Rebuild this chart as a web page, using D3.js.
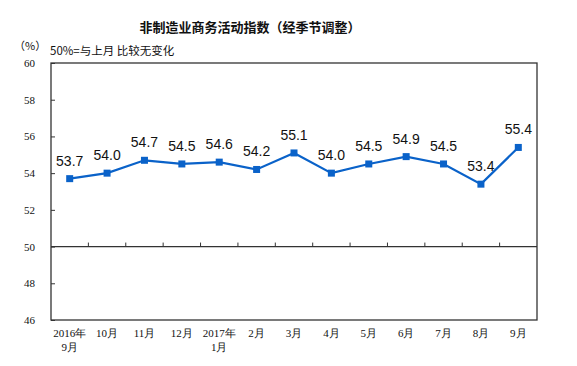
<!DOCTYPE html>
<html><head><meta charset="utf-8">
<script src="https://cdn.jsdelivr.net/npm/d3@7"></script>
<style>body{margin:0;background:#fff}svg{display:block}</style>
</head><body>
<script>
const categories = ["2016年\n9月","10月","11月","12月","2017年\n1月","2月","3月","4月","5月","6月","7月","8月","9月"];
const values = [53.7,54.0,54.7,54.5,54.6,54.2,55.1,54.0,54.5,54.9,54.5,53.4,55.4];
const yTicks = [46,48,50,52,54,56,58,60];
const title = "非制造业商务活动指数（经季节调整）";
const unit = "（%）";
const note = "50%=与上月 比较无变化";

const W=577,H=366;
const m={l:51,t:63,r:537,b:320};
const svg=d3.select("body").append("svg").attr("width",W).attr("height",H);
const x=d3.scaleBand().domain(categories).range([m.l,m.r]);
const y=d3.scaleLinear().domain([46,60]).range([m.b,m.t]);
const serif="'Liberation Serif','Times New Roman',serif";
const cjk="'Noto Sans CJK SC',sans-serif";

svg.append("text").attr("x",250).attr("y",32).attr("text-anchor","middle")
  .attr("font-family",cjk).attr("font-size",13).attr("font-weight","bold").attr("fill","#111").text(title);
svg.append("text").attr("x",14).attr("y",50).attr("font-family",cjk).attr("font-size",11).attr("fill","#111").text(unit);
svg.append("text").attr("x",50).attr("y",55).attr("font-family",cjk).attr("font-size",11.5).attr("fill","#111").text(note);

// box
svg.append("rect").attr("x",m.l).attr("y",m.t).attr("width",m.r-m.l).attr("height",m.b-m.t)
  .attr("fill","none").attr("stroke","#333").attr("stroke-width",1.3);

// y axis
const ya=svg.append("g").attr("transform",`translate(${m.l},0)`)
  .call(d3.axisLeft(y).tickValues(yTicks).tickSize(-4).tickPadding(16));
ya.select(".domain").remove();
ya.selectAll("line").attr("stroke","#333");
ya.selectAll("text").attr("font-family",serif).attr("font-size",11).attr("fill","#111");

// baseline at 50 with ticks between categories
svg.append("line").attr("x1",m.l).attr("x2",m.r).attr("y1",y(50)).attr("y2",y(50)).attr("stroke","#333").attr("stroke-width",1.3);
categories.slice(1).forEach(c=>{
  svg.append("line").attr("x1",x(c)).attr("x2",x(c)).attr("y1",y(50)).attr("y2",y(50)-4).attr("stroke","#333");
});

// x labels
categories.forEach(c=>{
  const t=svg.append("text").attr("text-anchor","middle").attr("font-family",serif).attr("font-size",11).attr("fill","#111")
    .attr("x",x(c)+x.bandwidth()/2).attr("y",337);
  c.split("\n").forEach((s,i)=>t.append("tspan").attr("x",x(c)+x.bandwidth()/2).attr("dy",i?14:0).text(s));
});

const line=d3.line().x((d,i)=>x(categories[i])+x.bandwidth()/2).y(d=>y(d));
svg.append("path").datum(values).attr("d",line).attr("fill","none").attr("stroke","#0a62c9").attr("stroke-width",2.2);
svg.selectAll(".pt").data(values).enter().append("rect")
  .attr("x",(d,i)=>x(categories[i])+x.bandwidth()/2-3.5).attr("y",d=>y(d)-3.5)
  .attr("width",7).attr("height",7).attr("fill","#0a62c9");
svg.selectAll(".lb").data(values).enter().append("text")
  .attr("x",(d,i)=>x(categories[i])+x.bandwidth()/2).attr("y",d=>y(d)-13)
  .attr("text-anchor","middle").attr("font-family","'Liberation Sans',Arial,sans-serif").attr("font-size",14).attr("fill","#111")
  .text(d=>d.toFixed(1));
</script>
</body></html>
